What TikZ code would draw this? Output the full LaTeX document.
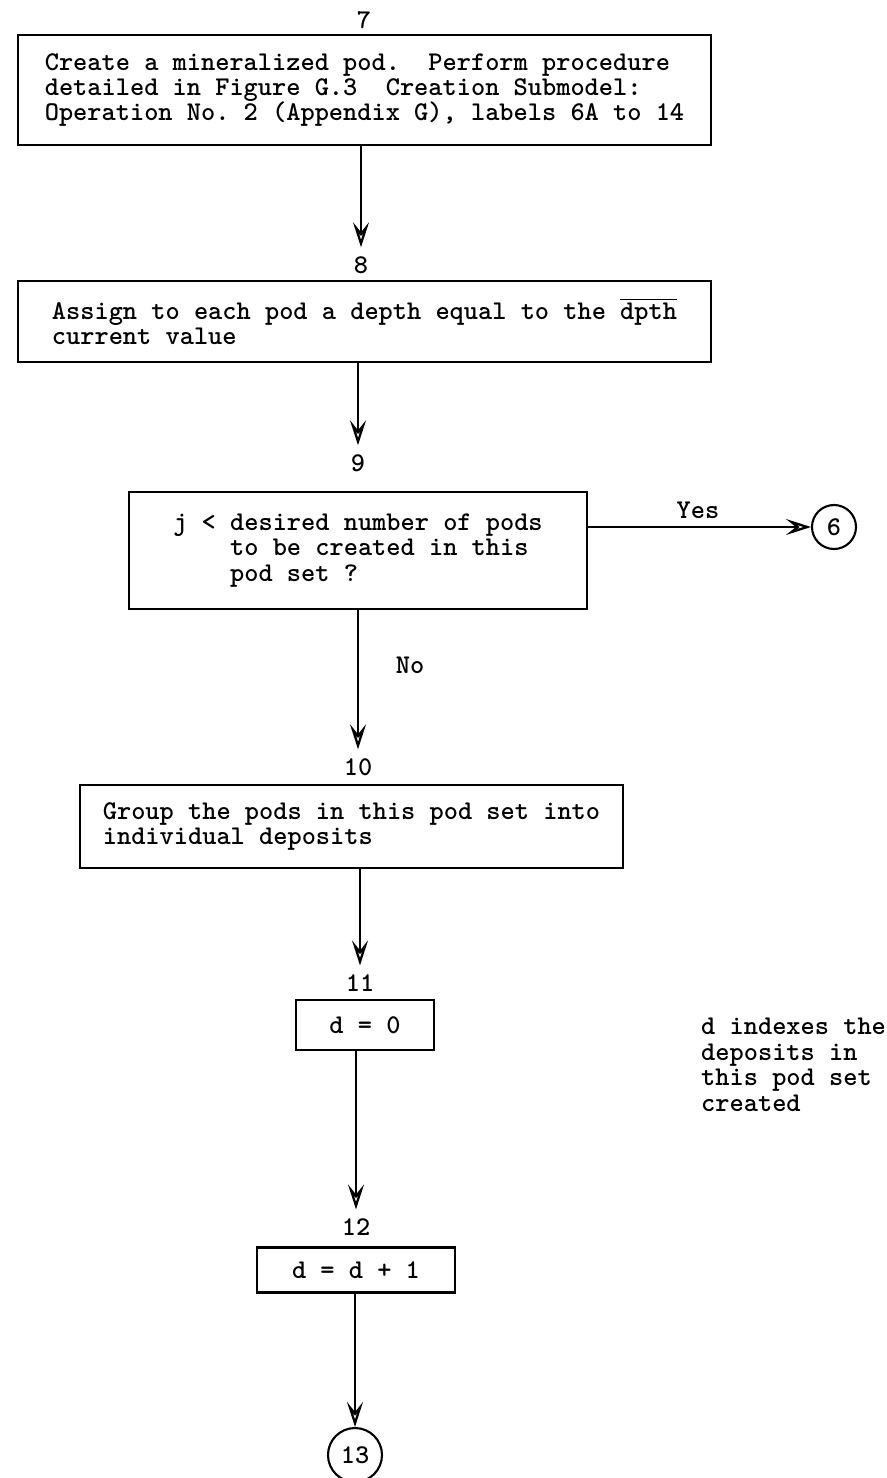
\documentclass[tikz,border=0pt]{standalone}
\usepackage{amsmath}
\usetikzlibrary{arrows.meta}

\begin{document}
\begin{tikzpicture}[every node/.style={font={\fontsize{15.4}{14.5}\selectfont\ttfamily\bfseries\frenchspacing}},
    proc_node/.style={draw, line width=1.2pt, align=left, inner sep=0pt},
    num_node/.style={inner sep=1pt},
    link_node/.style={circle, draw, line width=1.2pt, inner sep=0pt},
    flow/.style={line width=1.3pt, -{Stealth[open, length=0.5cm, width=0.32cm, inset=0.2cm]}, shorten >=4pt}]
    \useasboundingbox (0,0) rectangle (17.72,-29.56);

    % steps 7 to 12
    \node[num_node] (n7) at (7.28,-0.40) {7};
    \node[proc_node, minimum width=13.86cm, minimum height=2.2cm] (b7) at (7.29,-1.80) {Create a mineralized pod.\ \ Perform procedure\\detailed in Figure G.3\ \ Creation Submodel:\\Operation No. 2 (Appendix G), labels 6A to 14};
    \node[num_node] (n8) at (7.22,-5.30) {8};
    \node[proc_node, minimum width=13.86cm, minimum height=1.62cm] (b8) at (7.29,-6.43) {Assign to each pod a depth equal to the $\overline{\mbox{dpth}}$\\current value};
    \node[num_node] (n9) at (7.16,-9.26) {9};
    \node[proc_node, minimum width=9.16cm, minimum height=2.34cm] (b9) at (7.16,-11.01) {j < desired number of pods\\\ \ \ \ to be created in this\\\ \ \ \ pod set ?};
    \node[num_node] (n10) at (7.16,-15.34) {10};
    \node[proc_node, minimum width=10.86cm, minimum height=1.66cm] (b10) at (7.03,-16.53) {Group the pods in this pod set into\\individual deposits};
    \node[num_node] (n11) at (7.20,-19.66) {11};
    \node[proc_node, minimum width=2.76cm, minimum height=1.0cm] (b11) at (7.30,-20.50) {d = 0};
    \node[num_node] (n12) at (7.12,-24.54) {12};
    \node[proc_node, minimum width=3.96cm, minimum height=0.9cm] (b12) at (7.12,-25.40) {d = d + 1};

    % connectors
    \node[link_node, minimum size=0.88cm] (c6) at (16.68,-10.54) {6};
    \node[link_node, minimum size=1.08cm] (c13) at (7.10,-29.10) {13};

    \node (yes_lbl) at (13.96,-10.20) {Yes};
    \node (no_lbl) at (8.20,-13.30) {No};
    \node[align=left, anchor=west] (note_d) at (13.90,-21.30) {d indexes the\\deposits in\\this pod set\\created};

    \draw[flow] (b7.south -| n8) -- (n8);
    \draw[flow] (b8.south -| n9) -- (n9);
    \draw[flow, shorten >=0pt] (b9.east |- c6) -- (c6);
    \draw[flow] (b9.south -| n10) -- (n10);
    \draw[flow] (b10.south -| n11) -- (n11);
    \draw[flow] (b11.south -| n12) -- (n12);
    \draw[flow, shorten >=0pt] (b12.south -| c13) -- (c13);
\end{tikzpicture}
\end{document}
